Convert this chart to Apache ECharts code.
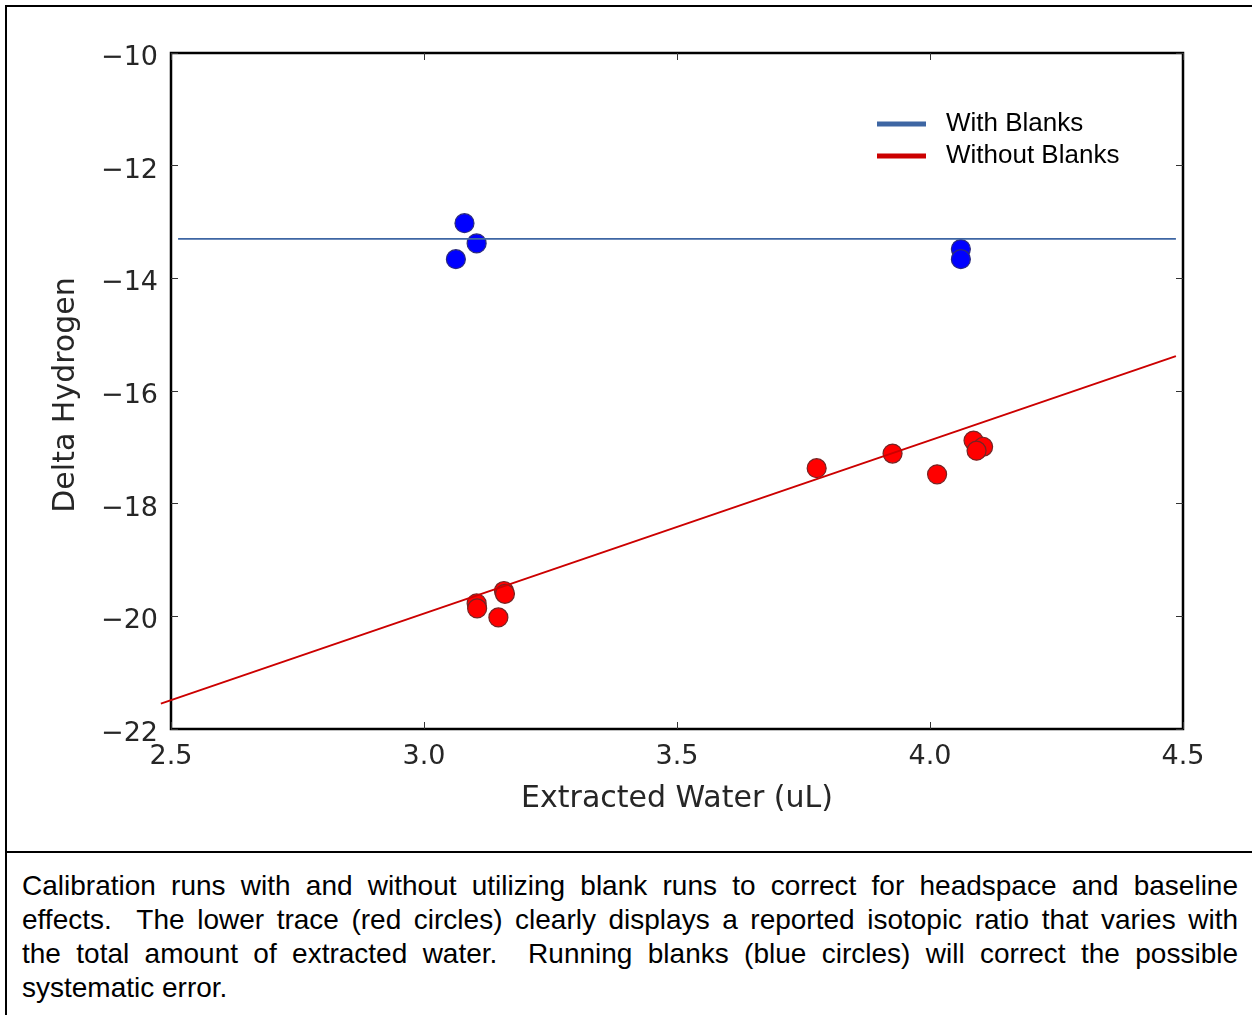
<!DOCTYPE html>
<html>
<head>
<meta charset="utf-8">
<script src="https://cdn.jsdelivr.net/npm/echarts@6/dist/echarts.min.js"></script>
<style>
  html, body { margin:0; padding:0; background:#fff; }
  body { width:1252px; height:1015px; position:relative; overflow:hidden; }
  #frame { position:absolute; left:5px; top:5px; width:1300px; height:1100px; border-left:2px solid #000; border-top:2px solid #000; box-sizing:border-box; }
  #chart { position:absolute; left:0; top:0; width:1252px; height:850px; }
  #divider { position:absolute; left:5px; top:851px; width:1260px; height:2px; background:#000; }
  #caption { position:absolute; left:22px; top:869px; width:1216px; font-family:"Liberation Sans", Arial, sans-serif; font-size:28px; line-height:34px; color:#000; }
  #caption .j { text-align:justify; text-align-last:justify; white-space:nowrap; }
  #caption .l { text-align:left; }
</style>
</head>
<body>
<div id="frame"></div>
<div id="chart"></div>
<div id="divider"></div>
<div id="caption"></div>
<script>
// ---- data ----
const blueX = [3.080, 3.104, 3.063, 4.061, 4.061];
const blueY = [-13.02, -13.38, -13.66, -13.48, -13.66];
const redX = [3.104, 3.105, 3.158, 3.160, 3.147, 3.776, 3.926, 4.014, 4.086, 4.105, 4.092];
const redY = [-19.77, -19.86, -19.55, -19.60, -20.02, -17.37, -17.11, -17.48, -16.88, -16.99, -17.06];
const fitBlueX = [2.514, 4.486];
const fitBlueY = [-13.30, -13.30];
const fitRedX = [2.480, 4.486];
const fitRedY = [-21.55, -15.38];
const xTicks = [2.5, 3.0, 3.5, 4.0, 4.5];
const yTicks = [-22, -20, -18, -16, -14, -12, -10];
const seriesNames = ['With Blanks', 'Without Blanks'];
const xTitle = 'Extracted Water (uL)';
const yTitle = 'Delta Hydrogen';
const captionLines = [
  'Calibration runs with and without utilizing blank runs to correct for headspace and baseline',
  'effects.\u00a0 The lower trace (red circles) clearly displays a reported isotopic ratio that varies with',
  'the total amount of extracted water.\u00a0 Running blanks (blue circles) will correct the possible',
  'systematic error.'
];

// caption
const cap = document.getElementById('caption');
captionLines.forEach((t, i) => {
  const d = document.createElement('div');
  d.className = i < captionLines.length - 1 ? 'j' : 'l';
  d.textContent = t;
  cap.appendChild(d);
});

const zip = (xs, ys) => xs.map((x, i) => [x, ys[i]]);
const fmtY = v => '{t|' + (v < 0 ? '\u2212' + Math.abs(v) : String(v)) + '}';
const fmtX = v => v.toFixed(1);

const tickFont = { fontFamily: 'DejaVu Sans', fontSize: 27, color: '#262626' };
const axisCommon = {
  type: 'value',
  splitLine: { show: false },
  axisLine: { show: false },
  axisTick: { show: true, inside: true, length: 7, lineStyle: { color: '#333', width: 1 } }
};

function segmentSeries(name, xs, ys, color, width) {
  return {
    name: name, type: 'custom', xAxisIndex: 0, yAxisIndex: 0,
    data: [[xs[0], ys[0], xs[1], ys[1]]],
    encode: { x: [0, 2], y: [1, 3] },
    clip: false, z: 3, silent: true,
    itemStyle: { color: color },
    renderItem: function (params, api) {
      const p0 = api.coord([api.value(0), api.value(1)]);
      const p1 = api.coord([api.value(2), api.value(3)]);
      return {
        type: 'line',
        shape: { x1: p0[0], y1: p0[1], x2: p1[0], y2: p1[1] },
        style: { stroke: color, lineWidth: width, fill: null }
      };
    }
  };
}

const chart = echarts.init(document.getElementById('chart'));
chart.setOption({
  animation: false,
  backgroundColor: 'transparent',
  grid: { left: 171, top: 53, width: 1012, height: 676, show: true, borderColor: '#000', borderWidth: 2.5, backgroundColor: 'transparent' },
  legend: {
    data: seriesNames,
    orient: 'vertical',
    left: 877, top: 106,
    padding: 0,
    icon: 'rect',
    itemWidth: 49, itemHeight: 5, itemGap: -4,
    textStyle: { fontFamily: 'Liberation Sans', fontSize: 26, lineHeight: 26, color: '#000', padding: [0, 0, 10, 15] },
    selectedMode: false
  },
  xAxis: [
    Object.assign({}, axisCommon, {
      min: xTicks[0], max: xTicks[xTicks.length - 1], interval: 0.5, position: 'bottom',
      axisLabel: Object.assign({ margin: 14, formatter: fmtX, showMinLabel: true, showMaxLabel: true }, tickFont),
      name: xTitle, nameLocation: 'middle', nameGap: 55,
      nameTextStyle: { fontFamily: 'DejaVu Sans', fontSize: 30, color: '#262626' }
    }),
    Object.assign({}, axisCommon, {
      min: xTicks[0], max: xTicks[xTicks.length - 1], interval: 0.5, position: 'top',
      axisLabel: { show: false }
    })
  ],
  yAxis: [
    Object.assign({}, axisCommon, {
      min: yTicks[0], max: yTicks[yTicks.length - 1], interval: 2, position: 'left',
      axisLabel: Object.assign({
        margin: 13, formatter: fmtY, showMinLabel: true, showMaxLabel: true,
        rich: { t: Object.assign({ padding: [10, 0, 0, 0] }, tickFont) }
      }, tickFont),
      name: yTitle, nameLocation: 'middle', nameGap: 90,
      nameTextStyle: { fontFamily: 'DejaVu Sans', fontSize: 30, color: '#262626', padding: [0, 8, 0, 0] }
    }),
    Object.assign({}, axisCommon, {
      min: yTicks[0], max: yTicks[yTicks.length - 1], interval: 2, position: 'right',
      axisLabel: { show: false }
    })
  ],
  series: [
    {
      name: 'blue points', type: 'scatter', xAxisIndex: 0, yAxisIndex: 0,
      data: zip(blueX, blueY), symbolSize: 19, z: 2,
      itemStyle: { color: '#0000ff', borderColor: '#2c2c7c', borderWidth: 1.2, opacity: 1 }
    },
    {
      name: 'red points', type: 'scatter', xAxisIndex: 0, yAxisIndex: 0,
      data: zip(redX, redY), symbolSize: 19, z: 2,
      itemStyle: { color: '#ff0000', borderColor: '#742424', borderWidth: 1.2, opacity: 1 }
    },
    segmentSeries(seriesNames[0], fitBlueX, fitBlueY, '#3e66a3', 1.8),
    segmentSeries(seriesNames[1], fitRedX, fitRedY, '#cc0000', 2)
  ]
});
</script>
</body>
</html>
